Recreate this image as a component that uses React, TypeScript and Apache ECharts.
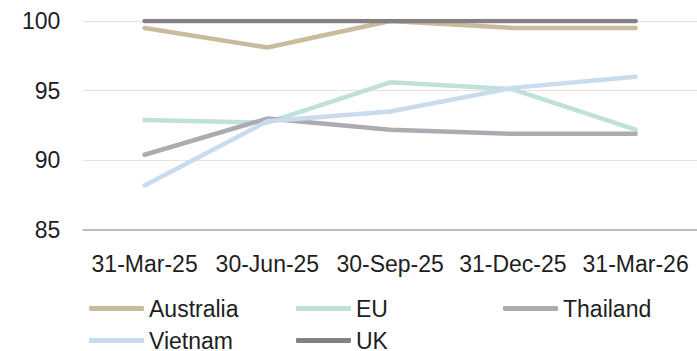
import React, { useEffect, useRef } from "react";
import * as echarts from "echarts";

const categories = ["31-Mar-25", "30-Jun-25", "30-Sep-25", "31-Dec-25", "31-Mar-26"];
const australia = [99.5, 98.1, 100, 99.5, 99.5];
const eu = [92.9, 92.7, 95.6, 95.1, 92.2];
const thailand = [90.4, 93.0, 92.2, 91.9, 91.9];
const vietnam = [88.2, 92.8, 93.5, 95.2, 96.0];
const uk = [100, 100, 100, 100, 100];
const yTicks = { min: 85, max: 100, interval: 5 };

const seriesDefs = [
  { name: "Australia", data: australia, color: "#cbbb9d" },
  { name: "EU", data: eu, color: "#bfe1d9" },
  { name: "Thailand", data: thailand, color: "#acabb1" },
  { name: "Vietnam", data: vietnam, color: "#c8dcee" },
  { name: "UK", data: uk, color: "#858081" },
];

const FONT = "'Liberation Sans', Arial, sans-serif";
const TEXT = "#1e1e1e";

export default function App() {
  const ref = useRef<HTMLDivElement>(null);
  useEffect(() => {
    if (!ref.current) return;
    const chart = echarts.init(ref.current, undefined, { renderer: "svg" });
    const legendCommon = {
      orient: "horizontal" as const,
      icon: "roundRect",
      itemWidth: 55,
      itemHeight: 5,
      itemGap: 0,
      padding: 0,
      width: 660,
      textStyle: { fontFamily: FONT, fontSize: 23, color: TEXT, width: 147, lineHeight: 23 },
    };
    chart.setOption({
      animation: false,
      textStyle: { fontFamily: FONT },
      grid: { left: 83.25, right: -3.75, top: 21, bottom: 121, containLabel: false },
      legend: [
        { ...legendCommon, left: 89, top: 297, data: ["Australia", "EU", "Thailand"] },
        { ...legendCommon, left: 89, top: 329, data: ["Vietnam", "UK"] },
      ],
      xAxis: {
        type: "category",
        data: categories,
        boundaryGap: true,
        axisTick: { show: false },
        axisLine: { show: true, lineStyle: { color: "#a9a8ad", width: 1.5 } },
        axisLabel: { fontFamily: FONT, fontSize: 23, color: TEXT, margin: 22, interval: 0 },
      },
      yAxis: {
        type: "value",
        min: yTicks.min,
        max: yTicks.max,
        interval: yTicks.interval,
        axisLine: { show: false },
        axisTick: { show: false },
        splitLine: { show: true, lineStyle: { color: "#e5e3dc", width: 1 } },
        axisLabel: { fontFamily: FONT, fontSize: 23, color: TEXT, margin: 23 },
      },
      series: seriesDefs.map((s) => ({
        name: s.name,
        type: "line",
        data: s.data,
        symbol: "none",
        color: s.color,
        lineStyle: { color: s.color, width: 4.5, cap: "round", join: "round" },
        itemStyle: { color: s.color },
      })),
    });
    return () => chart.dispose();
  }, []);
  return (
    <div
      ref={ref}
      style={{ position: "absolute", left: 0, top: 0, width: 697, height: 351 }}
    />
  );
}
